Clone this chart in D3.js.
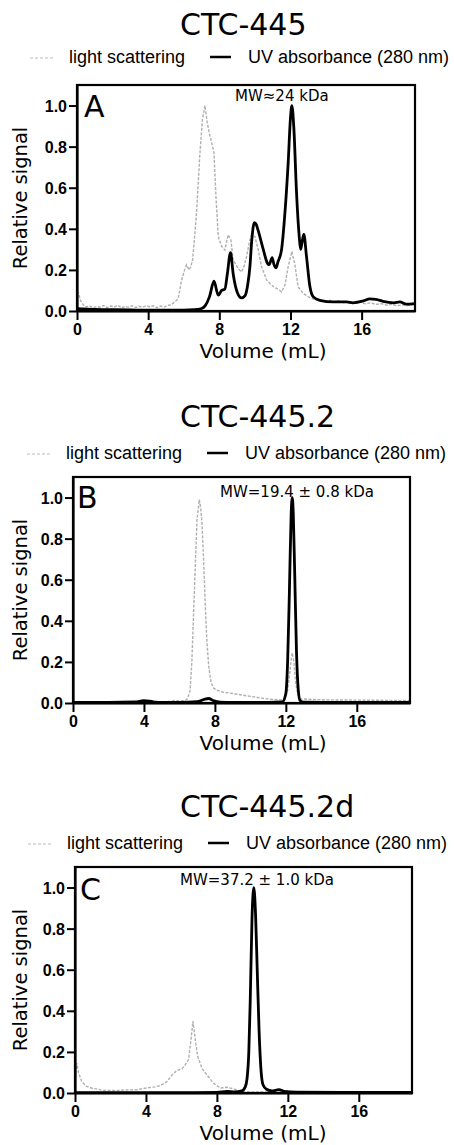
<!DOCTYPE html>
<html>
<head>
<meta charset="utf-8">
<script src="https://cdn.jsdelivr.net/npm/d3@7"></script>
<style>
  body { margin: 0; background: #fff; }
  .serif { font-family: "DejaVu Sans", Verdana, sans-serif; }
  .legend { font-family: "Liberation Sans", Arial, sans-serif; font-size: 18px; }
</style>
</head>
<body>
<div id="chart"></div>
<script>
// axis ticks and labels
let xTicks = [0, 4, 8, 12, 16];
let yTicks = [0, 0.2, 0.4, 0.6, 0.8, 1.0];
let panelTitles = ["CTC-445", "CTC-445.2", "CTC-445.2d"];
let panelLetters = ["A", "B", "C"];
let mwLabels = ["MW\u224824 kDa", "MW=19.4 \u00b1 0.8 kDa", "MW=37.2 \u00b1 1.0 kDa"];
let legendLabels = ["light scattering", "UV absorbance (280 nm)"];

// [volume mL, relative signal]
let lsA = [[0,0.06],[0.08,0.09],[0.2,0.05],[0.35,0.03],[0.5,0.02],[0.7,0.025],[0.9,0.015],[1.1,0.022],[1.3,0.018],[1.5,0.027],[1.7,0.016],[1.9,0.024],[2.1,0.02],[2.3,0.028],[2.5,0.015],[2.7,0.022],[2.9,0.019],[3.1,0.026],[3.3,0.017],[3.5,0.023],[3.7,0.018],[3.9,0.026],[4.1,0.02],[4.3,0.025],[4.5,0.016],[4.7,0.024],[4.9,0.019],[5.1,0.028],[5.3,0.03],[5.5,0.045],[5.69,0.06],[5.88,0.15],[6.05,0.2],[6.16,0.225],[6.3,0.2],[6.4,0.215],[6.5,0.25],[6.6,0.35],[6.72,0.477],[6.9,0.755],[7.05,0.93],[7.19,1.0],[7.32,0.918],[7.47,0.853],[7.6,0.81],[7.7,0.77],[7.81,0.559],[7.94,0.363],[8.13,0.314],[8.31,0.297],[8.42,0.34],[8.5,0.371],[8.65,0.346],[8.78,0.248],[9.06,0.207],[9.25,0.19],[9.4,0.22],[9.53,0.265],[9.7,0.34],[9.81,0.371],[10.0,0.363],[10.19,0.297],[10.37,0.216],[10.66,0.15],[10.94,0.126],[11.1,0.115],[11.22,0.11],[11.4,0.1],[11.5,0.093],[11.69,0.126],[11.87,0.216],[12.08,0.29],[12.25,0.224],[12.43,0.118],[12.72,0.085],[13.09,0.065],[13.4,0.055],[13.65,0.05],[13.9,0.045],[14.2,0.052],[14.4,0.043],[14.7,0.05],[15.0,0.04],[15.3,0.048],[15.6,0.038],[15.9,0.044],[16.2,0.035],[16.5,0.04],[16.8,0.032],[17.1,0.036],[17.4,0.028],[17.7,0.033],[18.0,0.025],[18.3,0.03],[18.6,0.026],[19,0.033]];
let uvA = [[0,0.012],[1,0.008],[2,0.006],[3,0.005],[4,0.004],[5,0.004],[6,0.004],[6.6,0.006],[7.0,0.012],[7.2,0.025],[7.45,0.07],[7.7,0.145],[7.94,0.077],[8.13,0.1],[8.31,0.106],[8.45,0.18],[8.63,0.284],[8.78,0.18],[9.0,0.093],[9.25,0.064],[9.45,0.075],[9.6,0.13],[9.72,0.216],[9.82,0.34],[9.97,0.43],[10.08,0.42],[10.19,0.39],[10.47,0.30],[10.71,0.232],[10.8,0.226],[10.97,0.26],[11.07,0.227],[11.18,0.21],[11.3,0.24],[11.5,0.30],[11.69,0.48],[11.87,0.72],[12.0,0.94],[12.08,1.0],[12.19,0.89],[12.34,0.577],[12.49,0.364],[12.57,0.30],[12.66,0.34],[12.75,0.373],[12.9,0.266],[13.09,0.12],[13.27,0.07],[13.65,0.052],[14.4,0.044],[15.15,0.044],[15.5,0.04],[16.1,0.049],[16.46,0.059],[16.8,0.057],[17.2,0.047],[17.8,0.04],[18.15,0.044],[18.5,0.033],[19,0.036]];

let lsB = [[0,0.003],[1,0.004],[2,0.003],[3,0.004],[4,0.004],[5,0.005],[5.5,0.008],[5.77,0.013],[6.0,0.01],[6.3,0.012],[6.45,0.02],[6.6,0.06],[6.7,0.2],[6.8,0.44],[6.9,0.68],[6.99,0.89],[7.12,0.99],[7.2,0.95],[7.27,0.88],[7.37,0.68],[7.46,0.47],[7.55,0.3],[7.65,0.18],[7.78,0.1],[7.93,0.072],[8.12,0.062],[8.5,0.052],[9.05,0.046],[9.44,0.04],[9.8,0.035],[10.2,0.03],[10.6,0.024],[10.95,0.02],[11.3,0.017],[11.7,0.015],[11.95,0.02],[12.1,0.06],[12.2,0.13],[12.3,0.21],[12.36,0.244],[12.45,0.2],[12.55,0.1],[12.68,0.04],[12.83,0.02],[13.5,0.017],[14.7,0.015],[16,0.014],[17.5,0.013],[19,0.012]];
let uvB = [[0,0.003],[2,0.003],[3.5,0.005],[4.0,0.012],[4.5,0.006],[5,0.003],[6,0.003],[7,0.006],[7.4,0.018],[7.65,0.022],[7.9,0.012],[8.3,0.004],[9,0.003],[11,0.003],[11.8,0.005],[12.0,0.046],[12.1,0.2],[12.2,0.54],[12.3,0.92],[12.36,1.0],[12.42,0.92],[12.5,0.63],[12.6,0.25],[12.7,0.065],[12.8,0.012],[13,0.004],[15,0.003],[19,0.003]];

let lsC = [[0,0.05],[0.1,0.146],[0.2,0.1],[0.38,0.055],[0.66,0.032],[1.0,0.022],[1.23,0.02],[1.5,0.014],[2,0.012],[2.5,0.013],[3,0.015],[3.5,0.016],[4.05,0.025],[4.5,0.03],[4.8,0.036],[5.18,0.055],[5.47,0.088],[5.75,0.11],[6.03,0.117],[6.22,0.138],[6.4,0.163],[6.54,0.26],[6.65,0.35],[6.78,0.26],[6.91,0.18],[7.16,0.12],[7.44,0.088],[7.82,0.047],[8.2,0.024],[8.57,0.028],[8.95,0.02],[9.33,0.008],[10,0.005],[12,0.004],[15,0.004],[19,0.004]];
let uvC = [[0,0.002],[2,0.002],[4,0.002],[6,0.002],[8,0.003],[8.57,0.008],[9,0.005],[9.4,0.01],[9.6,0.03],[9.7,0.07],[9.8,0.2],[9.88,0.45],[9.98,0.85],[10.08,1.0],[10.18,0.87],[10.28,0.58],[10.38,0.3],[10.48,0.12],[10.6,0.04],[10.8,0.018],[11.1,0.01],[11.5,0.016],[11.8,0.008],[12.5,0.004],[15,0.003],[19,0.003]];

let lsSeries = [lsA, lsB, lsC];
let uvSeries = [uvA, uvB, uvC];

// where each panel sits on the page
let boxes = [
    {left: 77, right: 415, top: 85, bottom: 311, titleY: 35, legendY: 63, legendX: 30, mwX: 235, mwY: 100.5, letterX: 84, letterY: 117},
    {left: 73, right: 410, top: 477, bottom: 703, titleY: 427, legendY: 459, legendX: 27, mwX: 220, mwY: 496.5, letterX: 77, letterY: 508},
    {left: 75, right: 412, top: 867, bottom: 1093, titleY: 817, legendY: 849, legendX: 28, mwX: 180, mwY: 885, letterX: 80, letterY: 900}
];

let width = 454, height = 1145;

let svg = d3.select("#chart").append("svg")
    .attr("width", width)
    .attr("height", height)
    .style("background", "#fff");

boxes.forEach(function(b, i) {
    let g = svg.append("g");

    let x = d3.scaleLinear().domain([0, 19]).range([b.left, b.right]);
    let y = d3.scaleLinear().domain([0, 1.1]).range([b.bottom, b.top]);

    // title
    g.append("text")
        .attr("class", "serif")
        .attr("x", 180).attr("y", b.titleY)
        .style("font-size", "30px")
        .text(panelTitles[i]);

    // legend
    g.append("line")
        .attr("x1", b.legendX).attr("x2", b.legendX + 25)
        .attr("y1", b.legendY - 5).attr("y2", b.legendY - 5)
        .attr("stroke", "#bbb").attr("stroke-width", 1.2)
        .attr("stroke-dasharray", "3,2");
    g.append("text").attr("class", "legend")
        .attr("x", b.legendX + 39).attr("y", b.legendY)
        .text(legendLabels[0]);
    g.append("line")
        .attr("x1", b.legendX + 180).attr("x2", b.legendX + 201)
        .attr("y1", b.legendY - 6).attr("y2", b.legendY - 6)
        .attr("stroke", "#000").attr("stroke-width", 2.5);
    g.append("text").attr("class", "legend")
        .attr("x", b.legendX + 218).attr("y", b.legendY)
        .text(legendLabels[1]);

    // clip for the traces
    let clipId = "clip" + i;
    svg.append("clipPath").attr("id", clipId)
        .append("rect")
        .attr("x", b.left).attr("y", b.top)
        .attr("width", b.right - b.left).attr("height", b.bottom - b.top);

    let line = d3.line()
        .x(d => x(d[0]))
        .y(d => y(d[1]));

    g.append("path")
        .datum(lsSeries[i])
        .attr("clip-path", "url(#" + clipId + ")")
        .attr("fill", "none")
        .attr("stroke", "#b0b0b0")
        .attr("stroke-width", 1.4)
        .attr("stroke-dasharray", "3,1.5")
        .attr("d", line.curve(d3.curveLinear));

    g.append("path")
        .datum(uvSeries[i])
        .attr("clip-path", "url(#" + clipId + ")")
        .attr("fill", "none")
        .attr("stroke", "#000")
        .attr("stroke-width", 2.8)
        .attr("stroke-linejoin", "round")
        .attr("d", line.curve(d3.curveMonotoneX));

    // frame
    g.append("rect")
        .attr("x", b.left).attr("y", b.top)
        .attr("width", b.right - b.left).attr("height", b.bottom - b.top)
        .attr("fill", "none").attr("stroke", "#000").attr("stroke-width", 2.2);

    // axes
    let xAxis = d3.axisBottom(x).tickValues(xTicks).tickFormat(d3.format("d"))
        .tickSize(9).tickSizeOuter(0).tickPadding(4);
    let gx = g.append("g")
        .attr("transform", "translate(0," + b.bottom + ")")
        .call(xAxis);

    let yAxis = d3.axisLeft(y).tickValues(yTicks).tickFormat(d3.format(".1f"))
        .tickSize(8).tickSizeOuter(0).tickPadding(2);
    let gy = g.append("g")
        .attr("transform", "translate(" + b.left + ",0)")
        .call(yAxis);

    [gx, gy].forEach(function(a) {
        a.select(".domain").attr("stroke-width", 2.2);
        a.selectAll(".tick line").attr("stroke-width", 2);
        a.selectAll(".tick text")
            .attr("fill", "#000")
            .style("font-family", "'Liberation Sans', Arial, sans-serif")
            .style("font-size", "16px")
            .style("font-weight", "700");
    });
    gy.selectAll(".tick text").attr("dy", "0.36em");

    // axis titles
    g.append("text")
        .attr("class", "serif")
        .attr("text-anchor", "middle")
        .attr("x", 263).attr("y", b.bottom + 47)
        .style("font-size", "20px")
        .text("Volume (mL)");

    g.append("text")
        .attr("class", "serif")
        .attr("text-anchor", "middle")
        .attr("transform", "translate(27," + ((b.top + b.bottom) / 2) + ") rotate(-90)")
        .style("font-size", "19.5px")
        .text("Relative signal");

    // panel letter and MW note
    g.append("text")
        .attr("class", "serif")
        .attr("x", b.letterX).attr("y", b.letterY)
        .style("font-size", "30px")
        .text(panelLetters[i]);

    g.append("text")
        .attr("class", "serif")
        .attr("x", b.mwX).attr("y", b.mwY)
        .style("font-size", "15px")
        .text(mwLabels[i]);
});
</script>
</body>
</html>
